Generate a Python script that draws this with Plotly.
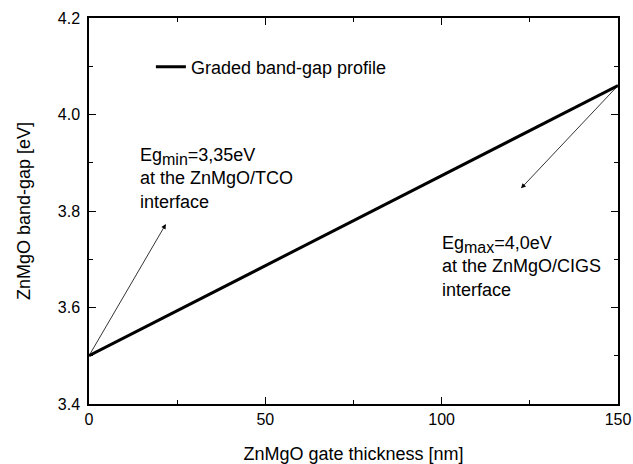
import plotly.graph_objects as go

# Graded ZnMgO band-gap across the gate thickness
thickness_nm = [0, 150]
band_gap_ev = [3.5, 4.06]

x_ticks = [0, 50, 100, 150]
y_ticks = [3.4, 3.6, 3.8, 4.0, 4.2]
y_tick_labels = ["3.4", "3.6", "3.8", "4.0", "4.2"]

FONT = "Liberation Sans, Arial, sans-serif"

fig = go.Figure()
fig.add_trace(go.Scatter(
    x=thickness_nm, y=band_gap_ev, mode="lines",
    line=dict(color="black", width=3),
    name="Graded band-gap profile",
))

axis_common = dict(
    showline=True, linecolor="black", linewidth=1.5, mirror="allticks",
    ticks="inside", ticklen=7, tickwidth=1.2, tickcolor="black",
    showgrid=False, zeroline=False, automargin=False,
    tickfont=dict(family=FONT, size=16, color="black"),
    title_font=dict(family=FONT, size=18, color="black"),
)

fig.update_xaxes(
    range=[0, 150], tickvals=x_ticks,
    minor=dict(ticks="inside", ticklen=4, dtick=25, tick0=0, tickcolor="black", tickwidth=1.2),
    title_text="ZnMgO gate thickness [nm]", title_standoff=22,
    **axis_common,
)
fig.update_yaxes(
    range=[3.4, 4.2], tickvals=y_ticks, ticktext=y_tick_labels,
    minor=dict(ticks="inside", ticklen=4, dtick=0.1, tick0=3.4, tickcolor="black", tickwidth=1.2),
    title_text="ZnMgO band-gap [eV]", title_standoff=22,
    ticklabelstandoff=4,
    **axis_common,
)

# Arrows from the interfaces toward their labels
fig.add_annotation(x=21.8, y=3.773, ax=thickness_nm[0], ay=band_gap_ev[0],
                   xref="x", yref="y", axref="x", ayref="y", text="",
                   showarrow=True, arrowhead=2, arrowsize=1.2, arrowwidth=0.8,
                   arrowcolor="black")
fig.add_annotation(x=122.5, y=3.847, ax=thickness_nm[1], ay=band_gap_ev[1],
                   xref="x", yref="y", axref="x", ayref="y", text="",
                   showarrow=True, arrowhead=2, arrowsize=1.2, arrowwidth=0.8,
                   arrowcolor="black")

SUB = "<sub><span style='font-size:16px'>{}</span></sub>"
fig.add_annotation(x=13.9, y=3.868, xref="x", yref="y", xanchor="left", yanchor="middle",
                   align="left", showarrow=False,
                   text="Eg" + SUB.format("min") + "=3,35eV<br>at the ZnMgO/TCO<br>interface",
                   font=dict(family=FONT, size=18, color="black"))
fig.add_annotation(x=99.5, y=3.686, xref="x", yref="y", xanchor="left", yanchor="middle",
                   align="left", showarrow=False,
                   text="Eg" + SUB.format("max") + "=4,0eV<br>at the ZnMgO/CIGS<br>interface",
                   font=dict(family=FONT, size=18, color="black"))

fig.update_layout(
    width=633, height=464,
    margin=dict(l=89, r=15, t=18, b=60),
    paper_bgcolor="white", plot_bgcolor="white",
    showlegend=True,
    legend=dict(x=0.117, y=0.873, xanchor="left", yanchor="middle",
                bgcolor="rgba(0,0,0,0)",
                font=dict(family=FONT, size=18, color="black")),
)

fig.write_html("out.html")
